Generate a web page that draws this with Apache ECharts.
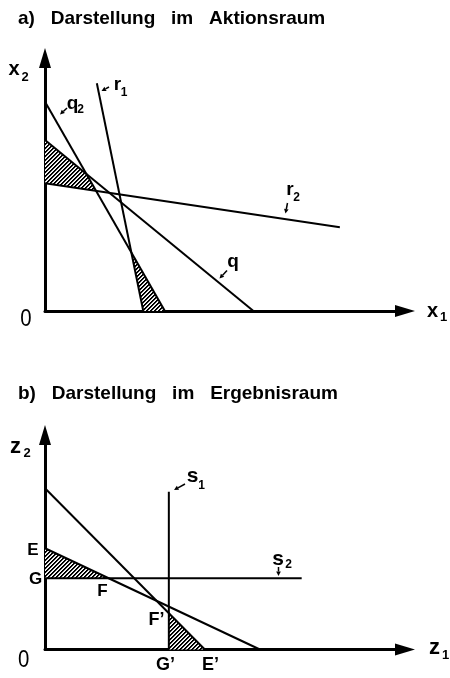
<!DOCTYPE html>
<html><head><meta charset="utf-8">
<script src="https://cdn.jsdelivr.net/npm/echarts@6/dist/echarts.min.js"></script>
<style>html,body{margin:0;padding:0;background:#fff}#c{width:450px;height:678px}</style>
</head><body><div id="c"></div>
<script>
// ---- Panel a: Darstellung im Aktionsraum (x1, x2) ----
const lineQ2 = [[0, 8.27], [3.33, 0]];
const lineQ  = [[0, 6.76], [5.79, 0]];
const lineR1 = [[1.44, 9.0], [2.73, 0]];
const lineR2 = [[0, 5.05], [8.19, 3.31]];
// ---- Panel b: Darstellung im Ergebnisraum (z1, z2) ----
const lineB1 = [[0, 7.52], [4.44, 0]];
const lineB2 = [[0, 4.72], [5.97, 0]];
const lineS1 = [[3.44, 0], [3.44, 7.36]];
const lineS2 = [[0, 3.32], [7.13, 3.32]];
// axis ranges
const axisRangeA = [0, 10];
const axisRangeB = [0, 10];
// texts
const titleA = 'a)   Darstellung   im   Aktionsraum';
const titleB = 'b)   Darstellung   im   Ergebnisraum';

function intersect(l1, l2) {
  const [[x1, y1], [x2, y2]] = l1, [[x3, y3], [x4, y4]] = l2;
  const d = (x1 - x2) * (y3 - y4) - (y1 - y2) * (x3 - x4);
  const a = x1 * y2 - y1 * x2, b = x3 * y4 - y3 * x4;
  return [(a * (x3 - x4) - (x1 - x2) * b) / d, (a * (y3 - y4) - (y1 - y2) * b) / d];
}
const hatchA = [
  [lineQ[0], intersect(lineQ, lineQ2), intersect(lineQ2, lineR2), lineR2[0]],
  [intersect(lineR1, lineQ2), lineR1[1], lineQ2[1]]
];
const hatchB = [
  [lineB2[0], intersect(lineB2, lineS2), lineS2[0]],
  [intersect(lineB1, lineS1), lineS1[0], lineB1[1]]
];

// hatch pattern
const pat = document.createElement('canvas');
pat.width = 4; pat.height = 4;
const pc = pat.getContext('2d');
pc.fillStyle = '#000'; pc.fillRect(0, 0, 4, 4);
for (let x = 0; x < 4; x++) for (let y = 0; y < 4; y++) {
  const m = (x + y) % 4;
  if (m === 3) { pc.fillStyle = '#fff'; pc.fillRect(x, y, 1, 1); }
  else if (m === 2) { pc.fillStyle = '#d0d0d0'; pc.fillRect(x, y, 1, 1); }
}

const FONT = '"Liberation Sans", Arial, sans-serif';
function axisCfg(gi, range) {
  return {
    gridIndex: gi, type: 'value', min: range[0], max: range[1],
    axisLine: { show: true, onZero: false, lineStyle: { color: '#000', width: 3 },
      symbol: ['none', 'triangle'], symbolSize: [12, 20] },
    axisTick: { show: false }, axisLabel: { show: false }, splitLine: { show: false }
  };
}
function lineSeries(data, gi) {
  return { type: 'line', xAxisIndex: gi, yAxisIndex: gi, data: data, showSymbol: false,
    lineStyle: { color: '#000', width: 2 }, silent: true, z: 3 };
}
function hatchSeries(polys, gi) {
  return { type: 'custom', xAxisIndex: gi, yAxisIndex: gi, silent: true, z: 1,
    data: polys.map((p, i) => [p[0][0], p[0][1], i]),
    renderItem: function (params, api) {
      const poly = polys[params.dataIndex];
      return { type: 'polygon', shape: { points: poly.map(pt => api.coord(pt)) },
        style: { fill: { image: pat, repeat: 'repeat' }, stroke: null } };
    } };
}
function txt(s, x, y, size, extra, weight) {
  return Object.assign({ type: 'text', x: x, y: y, silent: true,
    style: { text: s, font: (weight || 'bold') + ' ' + size + 'px ' + FONT, fill: '#000', align: 'center', verticalAlign: 'middle' } }, extra || {});
}
function arrow(x1, y1, x2, y2) {
  const dx = x2 - x1, dy = y2 - y1, L = Math.hypot(dx, dy), ux = dx / L, uy = dy / L;
  const hl = 4.5, hw = 2.3;
  const bx = x2 - ux * hl, by = y2 - uy * hl;
  return [
    { type: 'line', silent: true, shape: { x1: x1, y1: y1, x2: bx, y2: by }, style: { stroke: '#000', lineWidth: 1.5 } },
    { type: 'polygon', silent: true, shape: { points: [[x2, y2], [bx - uy * hw, by + ux * hw], [bx + uy * hw, by - ux * hw]] }, style: { fill: '#000' } }
  ];
}

const graphics = [
  { type: 'text', x: 18, y: 18.5, silent: true, style: { text: titleA, font: 'bold 19px ' + FONT, fill: '#000', align: 'left', verticalAlign: 'middle' } },
  { type: 'text', x: 18, y: 394, silent: true, style: { text: titleB, font: 'bold 19px ' + FONT, fill: '#000', align: 'left', verticalAlign: 'middle' } },
  // panel a axis names
  txt('x', 14, 69, 20), txt('2', 25, 77.5, 13),
  txt('0', 22.5, 319.5, 24, { scaleX: 0.85, originX: 22.5, originY: 319.5 }, 'normal'),
  txt('x', 432.5, 311, 20), txt('1', 443.5, 317.5, 13),
  // line labels panel a
  txt('q', 72.5, 104, 19), txt('2', 80.5, 109.5, 12),
  txt('r', 117.5, 84.5, 19), txt('1', 124, 93, 12),
  txt('r', 290, 189.5, 19), txt('2', 296.5, 198, 12),
  txt('q', 233, 262, 19),
  // panel b axis names
  txt('z', 15.5, 447, 22), txt('2', 27, 453.5, 13),
  txt('0', 20.5, 660, 24, { scaleX: 0.85, originX: 20.5, originY: 660 }, 'normal'),
  txt('z', 434.5, 648, 22), txt('1', 445.5, 655, 13),
  // line labels panel b
  txt('s', 192.5, 476, 21), txt('1', 201.5, 486, 12),
  txt('s', 278, 559.5, 21), txt('2', 288.5, 565, 12),
  // points
  txt('E', 33, 550, 17), txt('G', 35.5, 579, 17), txt('F', 102.5, 591, 17),
  txt('F\u2019', 156.5, 620, 18), txt('G\u2019', 165.5, 665.5, 18), txt('E\u2019', 210.5, 665.5, 18)
].concat(
  arrow(67, 108, 60, 114.5),
  arrow(109, 87, 101.5, 91),
  arrow(287.5, 203, 285.5, 213.5),
  arrow(227, 270.5, 219.5, 278.5),
  arrow(185, 484, 174, 490),
  arrow(278.5, 567, 278.5, 576)
);

const chart = echarts.init(document.getElementById('c'), null, { renderer: 'canvas' });
chart.setOption({
  animation: false,
  backgroundColor: '#fff',
  grid: [
    { left: 45, right: 45, top: 58, bottom: 367 },
    { left: 45, right: 45, top: 435, bottom: 28.5 }
  ],
  xAxis: [axisCfg(0, axisRangeA), axisCfg(1, axisRangeB)],
  yAxis: [axisCfg(0, axisRangeA), axisCfg(1, axisRangeB)],
  series: [
    hatchSeries(hatchA, 0), hatchSeries(hatchB, 1),
    lineSeries(lineQ2, 0), lineSeries(lineQ, 0), lineSeries(lineR1, 0), lineSeries(lineR2, 0),
    lineSeries(lineB1, 1), lineSeries(lineB2, 1), lineSeries(lineS1, 1), lineSeries(lineS2, 1)
  ],
  graphic: graphics
});
</script></body></html>
